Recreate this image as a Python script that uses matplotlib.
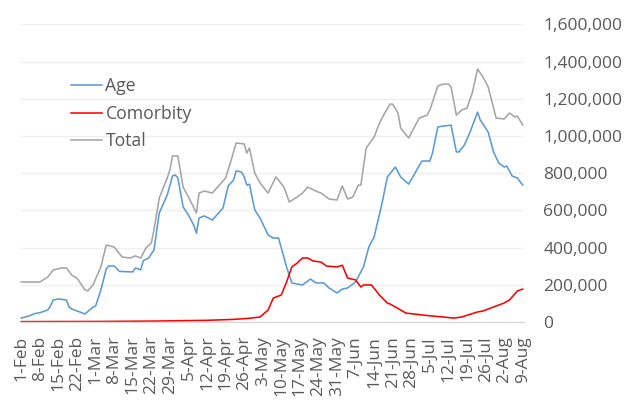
import matplotlib
matplotlib.use("Agg")
import matplotlib.pyplot as plt
from matplotlib.ticker import FuncFormatter

# ---- data (day offset from 1-Feb, value in thousands) ----
age_day = [0, 3, 5, 7, 10, 11, 12, 14, 16, 17, 18, 19, 22, 24, 27, 28, 30, 32, 33, 35,
           37, 42, 43, 45, 46, 48, 50, 52, 55, 57, 58, 59, 61, 63, 65, 66, 67, 69, 72, 76,
           78, 80, 81, 83, 84, 85, 86, 88, 90, 93, 95, 97, 98, 100, 102, 104, 106, 109, 111, 114,
           116, 119, 121, 123, 126, 129, 131, 133, 136, 138, 141, 143, 146, 151, 154, 155, 157, 159, 162, 164,
           165, 167, 169, 172, 173, 176, 178, 180, 182, 183, 185, 187, 189]
age_val = [21, 33, 45, 50, 65, 86, 118, 124, 120, 118, 80, 70, 54, 43, 80, 86, 172, 285, 301, 301,
           272, 269, 290, 280, 330, 344, 387, 586, 683, 785, 790, 775, 618, 575, 520, 478, 559, 570, 548, 612,
           731, 763, 812, 806, 780, 736, 740, 602, 559, 468, 451, 451, 398, 296, 210, 204, 199, 231, 210, 210,
           183, 156, 177, 183, 215, 296, 403, 457, 640, 780, 833, 780, 741, 865, 865, 908, 1048, 1053, 1058, 914,
           914, 951, 1015, 1128, 1086, 1021, 914, 854, 833, 838, 785, 774, 736]

total_day = [0, 7, 10, 12, 15, 17, 19, 21, 24, 25, 27, 30, 32, 35, 38, 41, 43, 45, 47, 49,
             50, 52, 55, 56, 57, 59, 61, 63, 66, 67, 69, 72, 75, 77, 79, 81, 84, 85, 86, 88,
             90, 93, 96, 99, 101, 104, 106, 108, 111, 113, 116, 119, 121, 123, 125, 127, 128, 130, 133, 135,
             137, 139, 140, 142, 143, 146, 150, 153, 154, 157, 159, 161, 162, 164, 166, 168, 170, 172, 174, 176,
             179, 182, 184, 186, 187, 189]
total_val = [215, 215, 242, 279, 290, 290, 252, 236, 172, 167, 199, 296, 414, 403, 349, 344, 355, 344, 398, 425,
             494, 666, 774, 817, 892, 892, 725, 672, 586, 693, 704, 693, 741, 774, 865, 962, 957, 908, 935, 800,
             747, 693, 780, 725, 645, 672, 693, 725, 704, 693, 661, 656, 731, 661, 672, 736, 736, 935, 994, 1069,
             1123, 1171, 1171, 1123, 1042, 989, 1096, 1112, 1139, 1268, 1279, 1279, 1263, 1112, 1139, 1150, 1231, 1360, 1317, 1263,
             1096, 1091, 1123, 1102, 1107, 1059]

comorb_day = [0, 30, 50, 60, 70, 80, 86, 90, 93, 95, 98, 100, 102, 104, 106, 108, 110, 113, 115, 119,
              121, 123, 126, 128, 129, 132, 135, 138, 139, 145, 151, 155, 159, 163, 166, 172, 174, 179, 182, 184,
              187, 189]
comorb_val = [2, 3, 5, 7, 9, 14, 20, 27, 64, 129, 145, 215, 296, 317, 344, 344, 328, 322, 301, 296,
              305, 236, 226, 188, 199, 199, 145, 102, 97, 48, 38, 32, 27, 21, 27, 54, 59, 86, 102, 118,
              167, 177]

tick_labels = ["1-Feb", "8-Feb", "15-Feb", "22-Feb", "1-Mar", "8-Mar", "15-Mar", "22-Mar", "29-Mar",
               "5-Apr", "12-Apr", "19-Apr", "26-Apr", "3-May", "10-May", "17-May", "24-May", "31-May",
               "7-Jun", "14-Jun", "21-Jun", "28-Jun", "5-Jul", "12-Jul", "19-Jul", "26-Jul", "2-Aug", "9-Aug"]
n_days = 190

plt.rcParams['font.family'] = ['Open Sans', 'DejaVu Sans']
txt = '#595959'

fig = plt.figure(figsize=(6.42, 4.01), dpi=100)
ax = fig.add_axes([20/642, 1-322/401, 504/642, (322-24.3)/401])

k = 1000
ax.plot(age_day, [v*k for v in age_val], color='#5B9BD5', lw=1.15, label='Age')
ax.plot(comorb_day, [v*k for v in comorb_val], color='#FF0000', lw=1.15, label='Comorbity')
ax.plot(total_day, [v*k for v in total_val], color='#A5A5A5', lw=1.15, label='Total')

ax.set_xlim(-0.5, n_days - 0.5)
ax.set_ylim(0, 1600000)
ax.set_yticks(range(0, 1600001, 200000))
ax.yaxis.set_major_formatter(FuncFormatter(lambda v, p: f"{int(v):,}"))
ax.yaxis.tick_right()
ax.tick_params(axis='y', length=0, pad=14, labelsize=12.5, labelcolor=txt)
ax.set_xticks([7*i for i in range(len(tick_labels))])
ax.set_xticklabels(tick_labels, rotation=90, va='top', ha='center')
ax.tick_params(axis='x', length=0, pad=10, labelsize=12.5, labelcolor=txt)

for s in ['top', 'left', 'right']:
    ax.spines[s].set_visible(False)
ax.spines['bottom'].set_color('#D9D9D9')
ax.spines['bottom'].set_linewidth(1.0)
ax.grid(axis='y', color='#EFEFEF', lw=1.0)
ax.set_axisbelow(True)

leg = ax.legend(loc='upper left', bbox_to_anchor=(71/642, 1-77/401), bbox_transform=fig.transFigure,
                frameon=False, fontsize=12.7, handlelength=1.75, handletextpad=0.2, labelspacing=0.55,
                borderaxespad=0, borderpad=0)
for t in leg.get_texts():
    t.set_color(txt)

fig.savefig('out.png', dpi=100)
